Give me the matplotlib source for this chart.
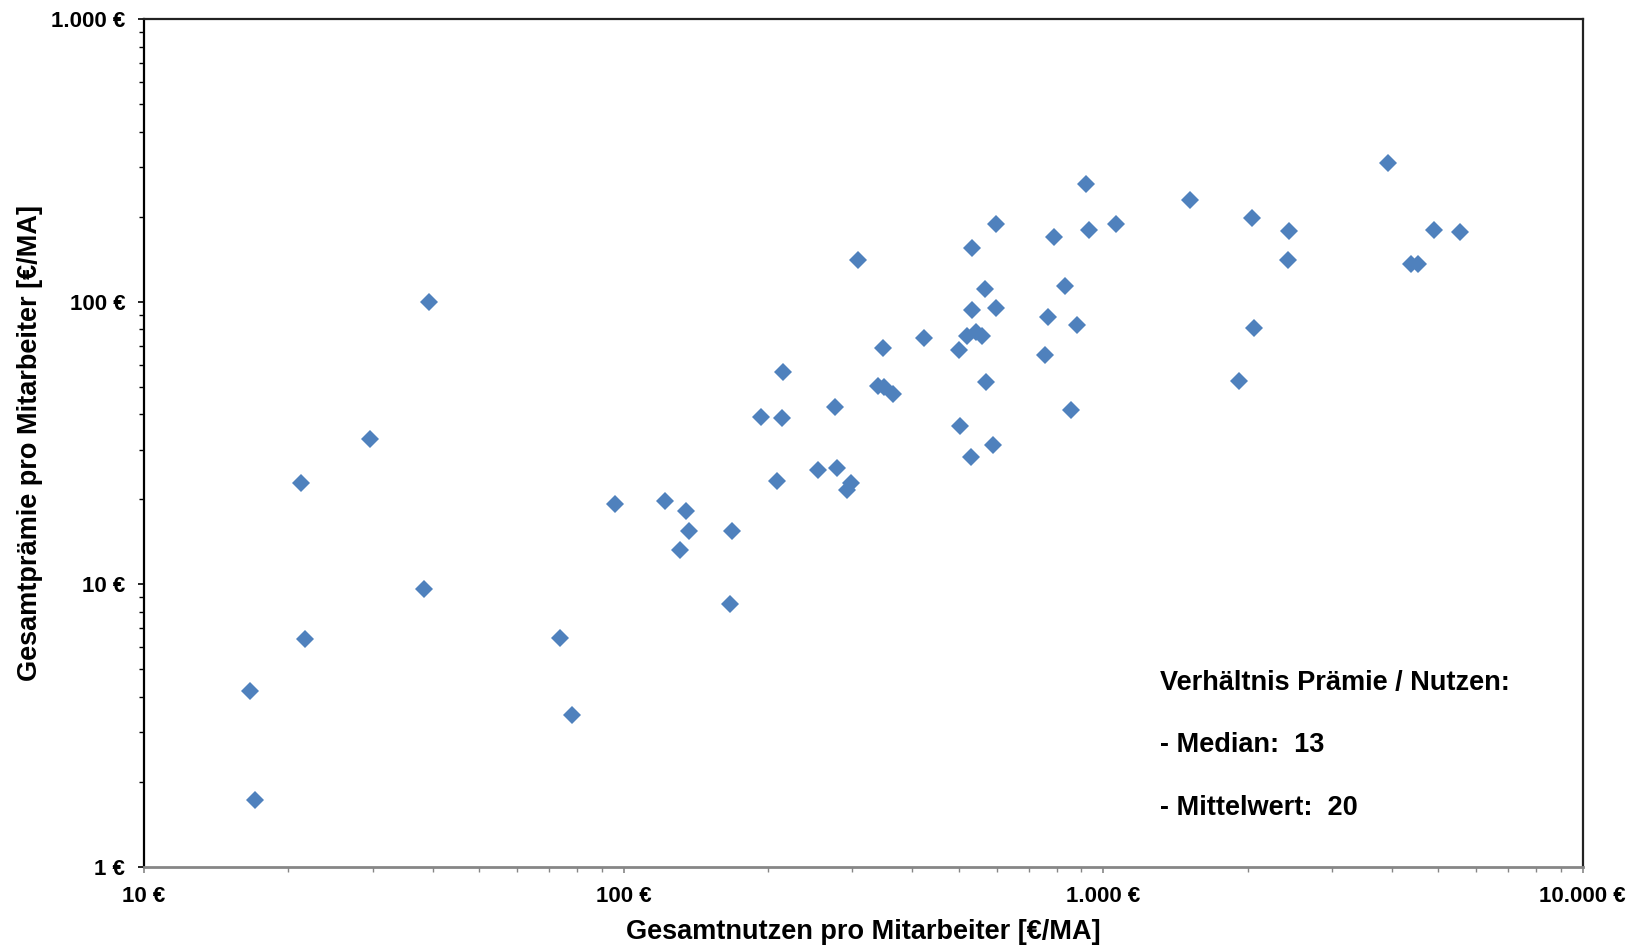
import matplotlib
matplotlib.use("Agg")
import matplotlib.pyplot as plt
from matplotlib.ticker import FixedLocator, LogLocator, NullFormatter

# Gesamtnutzen pro Mitarbeiter [€/MA]
nutzen = [16.6, 17.0, 21.2, 21.7, 29.6, 38.4, 39.3, 73.8, 78.0, 95.8,
          122, 135, 137, 131, 168, 167, 193, 214, 215, 209,
          254, 276, 279, 293, 298, 308, 339, 348, 349, 364,
          423, 501, 503, 519, 532, 534, 530, 542, 558, 568,
          569, 588, 597, 597, 755, 766, 789, 834, 859, 881,
          921, 935, 1065, 1519, 1921, 2040, 2061, 2442, 2430, 3926,
          4381, 4539, 4890, 5541]
# Gesamtprämie pro Mitarbeiter [€/MA]
praemie = [4.2, 1.73, 22.9, 6.4, 32.7, 9.6, 100, 6.46, 3.45, 19.3,
           19.8, 18.2, 15.5, 13.2, 15.4, 8.55, 39.1, 38.8, 56.3, 23.3,
           25.4, 42.5, 25.8, 21.6, 22.9, 140.8, 50.4, 68.4, 50.0, 47.1,
           74.5, 67.8, 36.5, 75.8, 154.6, 93.7, 28.3, 78.4, 75.8, 111,
           52.2, 31.1, 188, 95.3, 65.1, 88.3, 169.8, 113.9, 41.5, 82.5,
           261.5, 180, 188, 228.5, 52.6, 197.7, 81.1, 178.5, 140.8, 310,
           136, 136, 180, 177]

x_ticks = [10, 100, 1000, 10000]
x_labels = ["10 €", "100 €", "1.000 €", "10.000 €"]
y_ticks = [1, 10, 100, 1000]
y_labels = ["1 €", "10 €", "100 €", "1.000 €"]

info_lines = ["Verhältnis Prämie / Nutzen:", "- Median:  13", "- Mittelwert:  20"]

plt.rcParams['font.family'] = ['Liberation Sans', 'DejaVu Sans']
plt.rcParams['font.weight'] = 'bold'

fig = plt.figure(figsize=(16.33, 9.47), dpi=100)
ax = fig.add_axes([0.0882, 0.0845, 0.8810, 0.8951])

ax.plot(nutzen, praemie, linestyle='none', marker='D', markersize=8.8,
        color='#4F81BD', markeredgewidth=0)

ax.set_xscale('log')
ax.set_yscale('log')
ax.set_xlim(10, 10000)
ax.set_ylim(1, 1000)

ax.xaxis.set_major_locator(FixedLocator(x_ticks))
ax.set_xticklabels(x_labels)
ax.yaxis.set_major_locator(FixedLocator(y_ticks))
ax.set_yticklabels(y_labels)
for axis in (ax.xaxis, ax.yaxis):
    axis.set_minor_locator(LogLocator(base=10, subs=range(2, 10)))
    axis.set_minor_formatter(NullFormatter())

ax.tick_params(axis='both', which='major', direction='out', length=4.5, width=1.2,
               labelsize=16, pad=9)
ax.tick_params(axis='both', which='minor', direction='out', length=3.5, width=1.0)
ax.tick_params(axis='x', which='both', color='#868686')
ax.tick_params(axis='y', which='both', color='black')
for lab in ax.get_xticklabels() + ax.get_yticklabels():
    lab.set_fontweight('bold')

ax.spines['bottom'].set_color('#868686')
ax.spines['bottom'].set_linewidth(2.0)
ax.spines['left'].set_color('black')
ax.spines['left'].set_linewidth(1.6)
ax.spines['top'].set_color('#222222')
ax.spines['top'].set_linewidth(1.6)
ax.spines['right'].set_color('#222222')
ax.spines['right'].set_linewidth(1.6)

ax.set_xlabel("Gesamtnutzen pro Mitarbeiter [€/MA]", fontsize=19.5,
              fontweight='bold', labelpad=9)
ax.set_ylabel("Gesamtprämie pro Mitarbeiter [€/MA]", fontsize=19.5,
              fontweight='bold', labelpad=6)

for txt, yf in zip(info_lines, [0.2174, 0.1437, 0.0700]):
    ax.text(0.706, yf, txt, transform=ax.transAxes, fontsize=19.5,
            fontweight='bold', va='center', ha='left')

fig.savefig("out.png", dpi=100)
